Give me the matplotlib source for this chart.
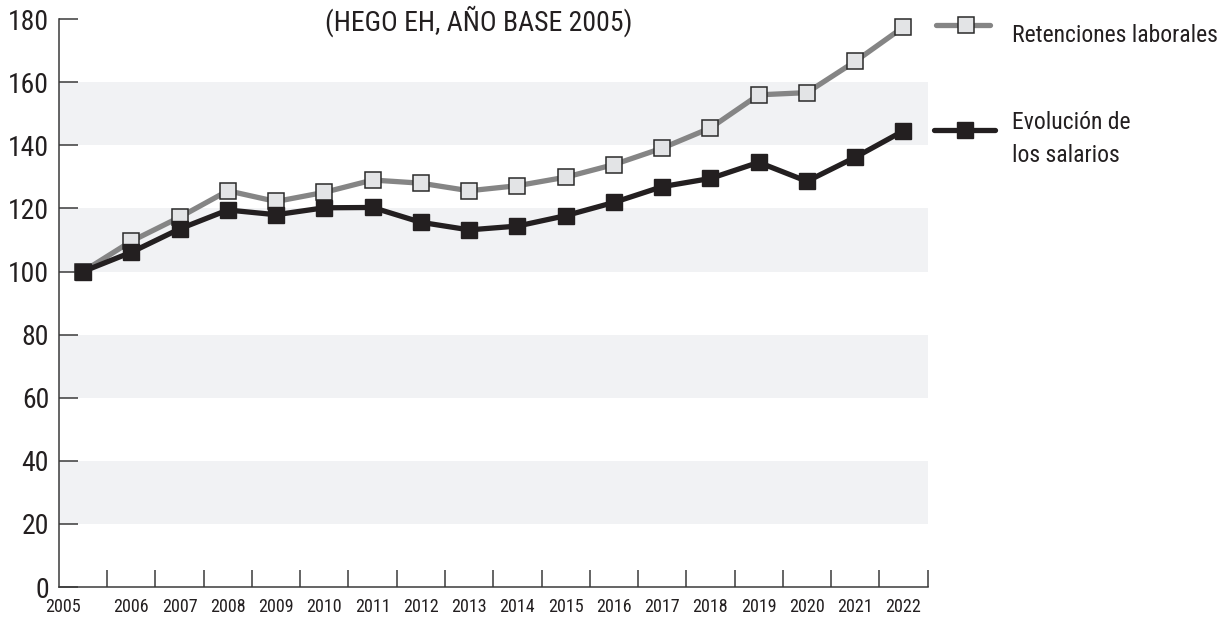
import os
import matplotlib
matplotlib.use('Agg')
import matplotlib.pyplot as plt
import matplotlib.transforms as mtransforms
from matplotlib import font_manager as fm
from matplotlib.lines import Line2D

years = ['2005', '2006', '2007', '2008', '2009', '2010', '2011', '2012', '2013',
         '2014', '2015', '2016', '2017', '2018', '2019', '2020', '2021', '2022']
retenciones = [100, 109.6, 117.2, 125.6, 122.2, 125.1, 129.0, 128.0, 125.6,
               127.2, 129.9, 133.9, 139.1, 145.5, 156.0, 156.7, 166.6, 177.5]
salarios = [100, 106.1, 113.5, 119.5, 118.0, 120.2, 120.3, 115.6, 113.2,
            114.4, 117.7, 121.9, 126.9, 129.5, 134.6, 128.6, 136.2, 144.6]
y_ticks = [0, 20, 40, 60, 80, 100, 120, 140, 160, 180]
bands = [(20, 40), (60, 80), (100, 120), (140, 160)]


def pick_condensed():
    # look for a narrow sans among the installed files
    prefs = ['robotocondensed', 'liberationsansnarrow', 'opensans_condensed',
             'opensans-condensed', 'opensanscondensed', 'dejavusanscondensed',
             'notosanscondensed', 'notosans-condensed']
    files = [f.fname for f in fm.fontManager.ttflist]
    for p in prefs:
        for fn in files:
            base = os.path.basename(fn).lower()
            if base.startswith(p) and 'bold' not in base and 'italic' not in base \
                    and 'light' not in base and 'oblique' not in base and 'medium' not in base \
                    and 'thin' not in base and 'black' not in base and 'semi' not in base \
                    and 'extra' not in base:
                return fn
    return None


fpath = pick_condensed()
if fpath:
    fm.fontManager.addfont(fpath)
    fname = fm.FontProperties(fname=fpath).get_name()
    plt.rcParams['font.family'] = [fname, 'DejaVu Sans']
else:
    plt.rcParams['font.family'] = ['DejaVu Sans']

grey_line = '#858585'
grey_face = '#e3e4e6'
dark = '#231f20'
band_col = '#f1f2f4'

fig = plt.figure(figsize=(12.27, 6.17), dpi=100)
ax = fig.add_axes([0.048, 0.0486, 0.708, 0.9204])

x = list(range(len(years)))

for lo, hi in bands:
    ax.axhspan(lo, hi, color=band_col, lw=0, zorder=0)

ax.plot(x, retenciones, color=grey_line, lw=3.8, marker='s', markersize=12,
        markerfacecolor=grey_face, markeredgecolor='#2a2a2a', markeredgewidth=1.1,
        zorder=3, clip_on=False)
ax.plot(x, salarios, color=dark, lw=3.8, marker='s', markersize=12,
        markerfacecolor=dark, markeredgecolor=dark, zorder=4, clip_on=False)

ax.set_xlim(-0.5, len(years) - 0.5)
ax.set_ylim(0, 180)

for s in ['top', 'right']:
    ax.spines[s].set_visible(False)
for s in ['left', 'bottom']:
    ax.spines[s].set_color('#3a3a3a')
    ax.spines[s].set_linewidth(1.1)

ax.set_yticks(y_ticks)
ax.set_yticklabels([str(v) for v in y_ticks])
ax.tick_params(axis='y', direction='in', length=14, width=1.1, color='#3a3a3a',
               labelsize=20, pad=7, labelcolor='#231f20')

ax.set_xticks(x)
ax.set_xticklabels(years)
ax.set_xticks([i + 0.5 for i in x], minor=True)
ax.tick_params(axis='x', which='major', length=0, labelsize=13, pad=8,
               labelcolor='#231f20')
ax.tick_params(axis='x', which='minor', direction='in', length=12, width=1.1,
               color='#3a3a3a')
lbl = ax.get_xticklabels()[0]
lbl.set_transform(lbl.get_transform() + mtransforms.ScaledTranslation(-0.2, 0, fig.dpi_scale_trans))

fig.text(0.390, 0.951, '(HEGO EH, AÑO BASE 2005)', ha='center', va='baseline',
         fontsize=20, color='#231f20')

# legend
fig.add_artist(Line2D([936 / 1227, 990 / 1227], [1 - 25 / 617] * 2, color=grey_line, lw=3.8,
                      solid_capstyle='round'))
fig.add_artist(Line2D([966 / 1227], [1 - 25 / 617], marker='s', markersize=12, color=grey_line,
                      markerfacecolor=grey_face, markeredgecolor='#2a2a2a', markeredgewidth=1.1))
fig.text(1012 / 1227, 1 - 36 / 617, 'Retenciones laborales', ha='left', va='center',
         fontsize=17, color='#231f20')

fig.add_artist(Line2D([934 / 1227, 995 / 1227], [1 - 130 / 617] * 2, color=dark, lw=3.8,
                      solid_capstyle='round'))
fig.add_artist(Line2D([965 / 1227], [1 - 130 / 617], marker='s', markersize=12, color=dark))
fig.text(1012 / 1227, 1 - 139 / 617, 'Evolución de\nlos salarios', ha='left', va='center',
         fontsize=17, color='#231f20', linespacing=1.6)

fig.savefig('out.png', dpi=100)
